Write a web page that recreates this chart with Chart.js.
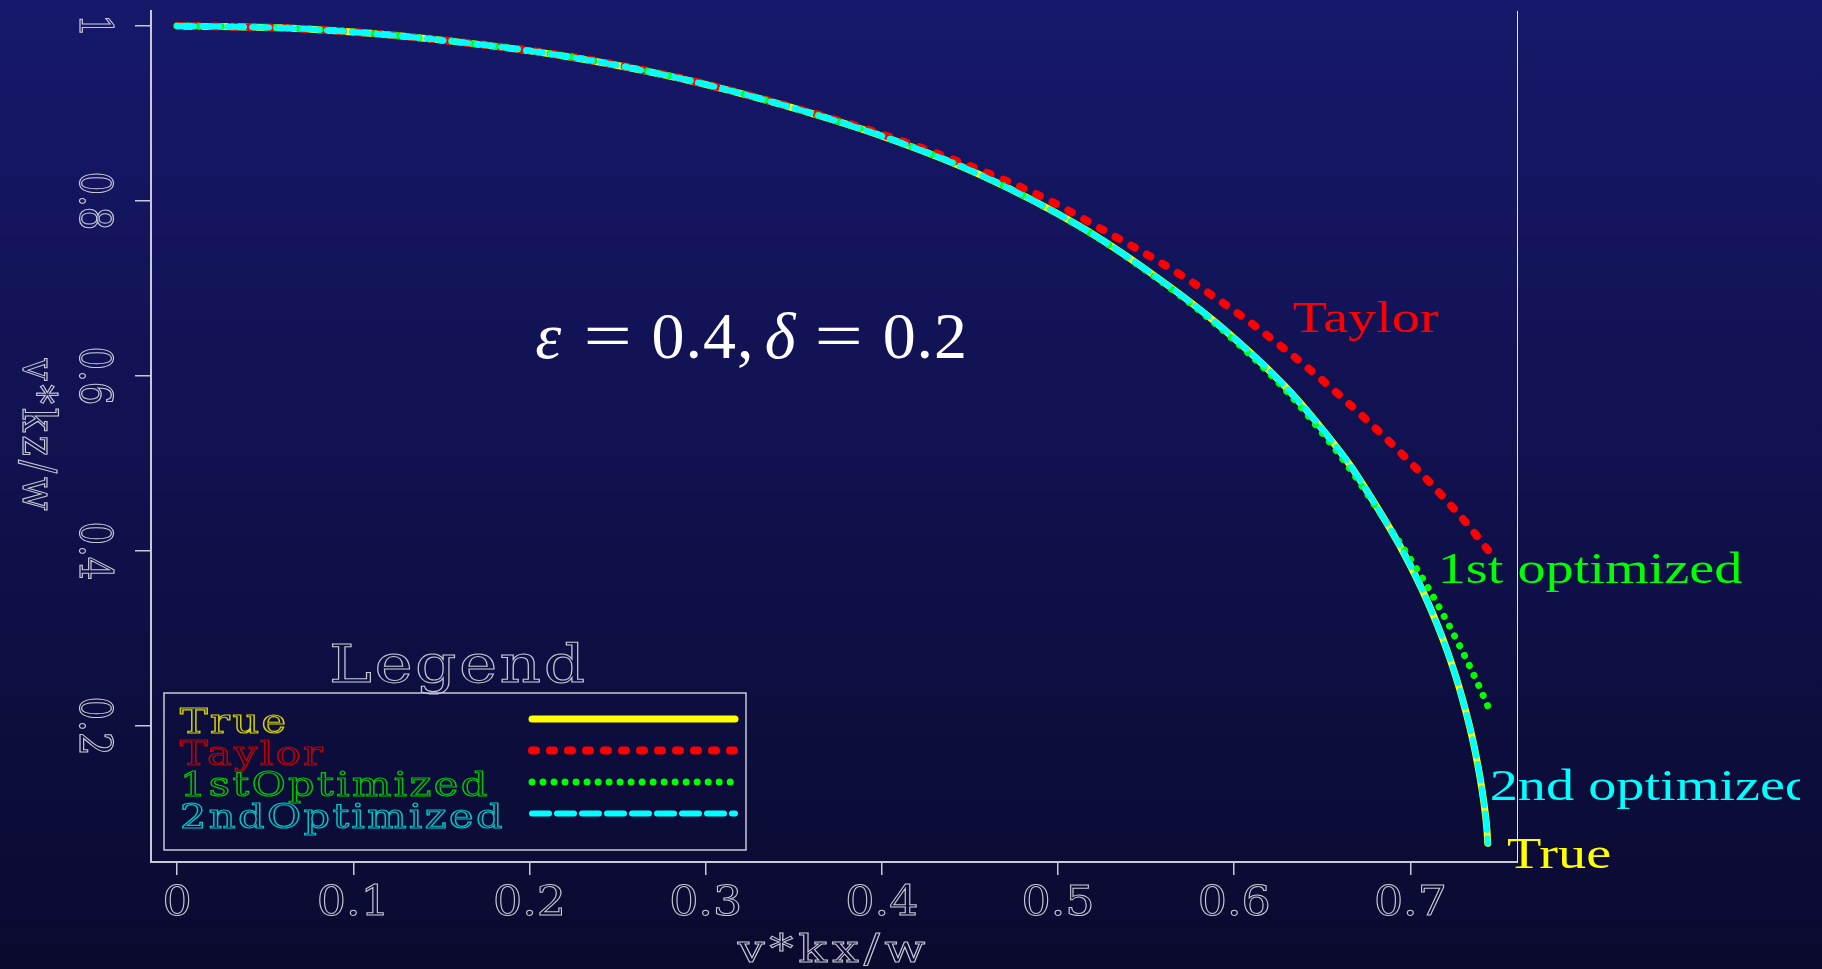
<!DOCTYPE html>
<html>
<head>
<meta charset="utf-8">
<title>v*kz/w vs v*kx/w</title>
<script src="https://cdn.jsdelivr.net/npm/chart.js@4.4.1/dist/chart.umd.min.js"></script>
<style>
  html, body { margin: 0; padding: 0; background: #0b0b33; overflow: hidden; }
  canvas { display: block; }
</style>
</head>
<body>
<canvas id="chart" width="1822" height="969"></canvas>
<script>
// curves: v*kx/w (x) against v*kz/w (y)
const trueX = [0, 0.0715, 0.1472, 0.2229, 0.2853, 0.3421, 0.3988, 0.4556, 0.5123, 0.5520, 0.5899, 0.6277, 0.6466, 0.6656, 0.6785, 0.6953, 0.7093, 0.7207, 0.7297, 0.7366, 0.7415, 0.7435, 0.7439];
const trueY = [1, 0.9966, 0.9843, 0.9645, 0.9400, 0.9105, 0.8750, 0.8300, 0.7710, 0.7185, 0.6605, 0.5905, 0.5475, 0.4985, 0.4583, 0.4011, 0.3440, 0.2869, 0.2297, 0.1726, 0.1154, 0.0800, 0.0659];

const taylorX = [0, 0.0715, 0.1472, 0.2229, 0.2853, 0.3421, 0.3988, 0.4556, 0.4935, 0.5303, 0.5549, 0.5766, 0.5947, 0.6117, 0.6293, 0.6447, 0.6608, 0.6765, 0.6911, 0.7062, 0.7191, 0.7323, 0.7440];
const taylorY = [1, 0.9966, 0.9845, 0.9650, 0.9405, 0.9110, 0.8770, 0.8354, 0.8020, 0.7615, 0.7335, 0.7065, 0.6820, 0.6572, 0.6297, 0.6043, 0.5762, 0.5472, 0.5190, 0.4883, 0.4607, 0.4308, 0.4011];

const opt1X = [0, 0.0715, 0.1472, 0.2229, 0.2853, 0.3421, 0.3988, 0.4556, 0.5123, 0.5520, 0.5899, 0.6277, 0.6466, 0.6656, 0.6785, 0.7016, 0.7088, 0.7154, 0.7218, 0.7277, 0.7333, 0.7389, 0.7441];
const opt1Y = [1, 0.9968, 0.9845, 0.9648, 0.9403, 0.9106, 0.8750, 0.8300, 0.7705, 0.7175, 0.6585, 0.5870, 0.5430, 0.4940, 0.4560, 0.3859, 0.3623, 0.3391, 0.3154, 0.2926, 0.2697, 0.2457, 0.2221];

const opt2X = [0, 0.0715, 0.1472, 0.2229, 0.2853, 0.3421, 0.3988, 0.4556, 0.5123, 0.5520, 0.5899, 0.6277, 0.6466, 0.6656, 0.6785, 0.6953, 0.7093, 0.7207, 0.7297, 0.7366, 0.7415, 0.7435, 0.7439];
const opt2Y = [1, 0.9966, 0.9843, 0.9645, 0.9400, 0.9105, 0.8750, 0.8300, 0.7710, 0.7185, 0.6605, 0.5905, 0.5475, 0.4985, 0.4583, 0.4011, 0.3440, 0.2869, 0.2297, 0.1726, 0.1154, 0.0800, 0.0659];

const seriesNames = ['True', 'Taylor', '1stOptimized', '2ndOptimized'];

// text put next to the curve ends, in data units
const curveLabels = ['True', 'Taylor', '1st optimized', '2nd optimized'];
const curveLabelX = [0.7548, 0.6332, 0.7155, 0.745];
const curveLabelY = [0.0377, 0.6506, 0.3634, 0.1154];

const xTicks = [0, 0.1, 0.2, 0.3, 0.4, 0.5, 0.6, 0.7];
const xTickLabels = ['0', '0.1', '0.2', '0.3', '0.4', '0.5', '0.6', '0.7'];
const yTicks = [0.2, 0.4, 0.6, 0.8, 1];
const yTickLabels = ['0.2', '0.4', '0.6', '0.8', '1'];

const AXIS = '#c9c9d6';

function toPoints(xs, ys) {
    return xs.map((x, i) => ({ x, y: ys[i] }));
}

// thin outlined serif text, a stand-in for the plotter's stroke font
function hershey(ctx, text, x, y, size, color, o = {}) {
    ctx.save();
    ctx.translate(x, y);
    if (o.rot) ctx.rotate(o.rot);
    ctx.scale(o.sx || 1, o.sy || 1);
    ctx.font = size + 'px "DejaVu Serif"';
    ctx.letterSpacing = (o.ls || 0) + 'px';
    ctx.textAlign = o.align || 'left';
    ctx.textBaseline = 'alphabetic';
    ctx.strokeStyle = color;
    ctx.lineWidth = o.lw || 1;
    ctx.strokeText(text, 0, 0);
    ctx.restore();
}

function serifLabel(ctx, text, x, y, size, color, sx) {
    ctx.save();
    ctx.translate(x, y);
    ctx.scale(sx, 1);
    ctx.font = size + 'px "Liberation Serif"';
    ctx.fillStyle = color;
    ctx.textAlign = 'left';
    ctx.textBaseline = 'alphabetic';
    ctx.fillText(text, 0, 0);
    ctx.restore();
}

// epsilon/delta label, laid out with TeX-like spacing (widths in em)
function drawMath(ctx, x, y, size) {
    const parts = [
        ['ε', 1, 0.466], ['', 0, 0.278], ['=', 0, 0.778], ['', 0, 0.278],
        ['0', 0, 0.5], ['.', 0, 0.278], ['4', 0, 0.5], [',', 0, 0.278], ['', 0, 0.167],
        ['δ', 1, 0.444], ['', 0, 0.278], ['=', 0, 0.778], ['', 0, 0.278],
        ['0', 0, 0.5], ['.', 0, 0.278], ['2', 0, 0.5]
    ];
    ctx.save();
    ctx.fillStyle = '#ffffff';
    ctx.textAlign = 'center';
    ctx.textBaseline = 'alphabetic';
    let cx = x;
    parts.forEach(([t, it, w]) => {
        const bw = w * size;
        if (t) {
            ctx.save();
            ctx.translate(cx + bw / 2, y);
            if (t === '=') ctx.scale(1.3, 1);
            ctx.font = (it ? 'italic ' : '') + size + 'px "Liberation Serif"';
            ctx.fillText(t, 0, 0);
            ctx.restore();
        }
        cx += bw;
    });
    ctx.restore();
}

const decoPlugin = {
    id: 'deco',
    beforeDraw(chart) {
        const { ctx, width, height } = chart;
        const g = ctx.createLinearGradient(0, 0, 0, height);
        g.addColorStop(0, '#16186b');
        g.addColorStop(1, '#0a0a2f');
        ctx.save();
        ctx.fillStyle = g;
        ctx.fillRect(0, 0, width, height);
        ctx.restore();
    },
    afterDatasetsDraw(chart) {
        const { ctx, scales: { x, y } } = chart;
        const colors = ['#ffff00', '#ff0000', '#00ff00', '#00ffff'];
        // the right-hand label runs off the page in the original
        ctx.save();
        ctx.beginPath();
        ctx.rect(0, 0, 1800, chart.height);
        ctx.clip();
        curveLabels.forEach((t, i) => {
            serifLabel(ctx, t, x.getPixelForValue(curveLabelX[i]), y.getPixelForValue(curveLabelY[i]), 45, colors[i], 1.25);
        });
        ctx.restore();
        drawMath(ctx, x.getPixelForValue(0.2019), y.getPixelForValue(0.6206), 66);
    },
    afterDraw(chart) {
        const { ctx, chartArea: ca, scales: { x, y } } = chart;

        // tick labels
        xTicks.forEach((v, i) => {
            hershey(ctx, xTickLabels[i], x.getPixelForValue(v), ca.bottom + 53, 41, AXIS, { sx: 1.12, align: 'center' });
        });
        yTicks.forEach((v, i) => {
            hershey(ctx, yTickLabels[i], ca.left - 71, y.getPixelForValue(v), 37, AXIS, { rot: Math.PI / 2, sy: 1.2, align: 'center' });
        });

        // axis titles
        hershey(ctx, 'v*kx/w', (ca.left + ca.right) / 2, ca.bottom + 100, 39, AXIS, { sx: 1.22, ls: 4, align: 'center' });
        hershey(ctx, 'v*kz/w', ca.left - 128, (ca.top + ca.bottom) / 2, 39, AXIS, { rot: Math.PI / 2, sy: 1.2, ls: 4, align: 'center' });

        // legend box
        const bx = ca.left + 13, by = ca.bottom - 169, bw = 582, bh = 157;
        ctx.save();
        ctx.strokeStyle = AXIS;
        ctx.lineWidth = 1.5;
        ctx.strokeRect(bx, by, bw, bh);
        ctx.restore();
        hershey(ctx, 'Legend', bx + 165, by - 11, 53, AXIS, { sx: 1.22, ls: 2 });

        const textColors = ['#d2d200', '#c80000', '#00c800', '#00c8c8'];
        chart.data.datasets.forEach((ds, i) => {
            const base = by + 40 + i * 31.5;
            hershey(ctx, ds.label, bx + 16, base, 34, textColors[i], { sx: 1.22, ls: 2, lw: 1.2 });
            ctx.save();
            ctx.strokeStyle = ds.borderColor;
            ctx.lineWidth = ds.borderWidth;
            ctx.lineCap = 'round';
            ctx.setLineDash(ds.borderDash || []);
            ctx.beginPath();
            ctx.moveTo(bx + 368, base - 14);
            ctx.lineTo(bx + 571, base - 14);
            ctx.stroke();
            ctx.restore();
        });
    }
};

function lineSet(label, xs, ys, color, width, dash, order) {
    return {
        label,
        data: toPoints(xs, ys),
        showLine: true,
        borderColor: color,
        borderWidth: width,
        borderDash: dash,
        borderCapStyle: 'round',
        borderJoinStyle: 'round',
        pointRadius: 0,
        fill: false,
        cubicInterpolationMode: 'monotone',
        order
    };
}

const ctx = document.getElementById('chart').getContext('2d');
new Chart(ctx, {
    type: 'scatter',
    data: {
        datasets: [
            lineSet(seriesNames[0], trueX, trueY, '#ffff00', 7, [], 3),
            lineSet(seriesNames[1], taylorX, taylorY, '#ff0000', 8, [4, 14], 2),
            lineSet(seriesNames[2], opt1X, opt1Y, '#00ff00', 7, [0.01, 11], 1),
            lineSet(seriesNames[3], opt2X, opt2Y, '#00ffff', 6, [17, 8], 0)
        ]
    },
    options: {
        responsive: false,
        devicePixelRatio: 1,
        animation: false,
        layout: { padding: { left: 135, right: 305, top: 11, bottom: 94 } },
        plugins: {
            legend: { display: false },
            tooltip: { enabled: false }
        },
        scales: {
            x: {
                type: 'linear',
                min: -0.0148,
                max: 0.7605,
                afterBuildTicks: (axis) => { axis.ticks = xTicks.map(v => ({ value: v })); },
                ticks: { display: false },
                grid: { drawOnChartArea: false, drawTicks: true, tickLength: 13, color: AXIS, lineWidth: 1.5 },
                border: { color: AXIS, width: 2 }
            },
            y: {
                type: 'linear',
                min: 0.0446,
                max: 1.017,
                afterBuildTicks: (axis) => { axis.ticks = yTicks.map(v => ({ value: v })); },
                ticks: { display: false },
                grid: { drawOnChartArea: false, drawTicks: true, tickLength: 16, color: AXIS, lineWidth: 1.5 },
                border: { color: AXIS, width: 2 }
            },
            y2: {
                type: 'linear',
                position: 'right',
                min: 0.0446,
                max: 1.017,
                ticks: { display: false },
                grid: { display: false, drawTicks: false },
                border: { display: true, color: '#e6e6f0', width: 1 }
            }
        }
    },
    plugins: [decoPlugin]
});
</script>
</body>
</html>
